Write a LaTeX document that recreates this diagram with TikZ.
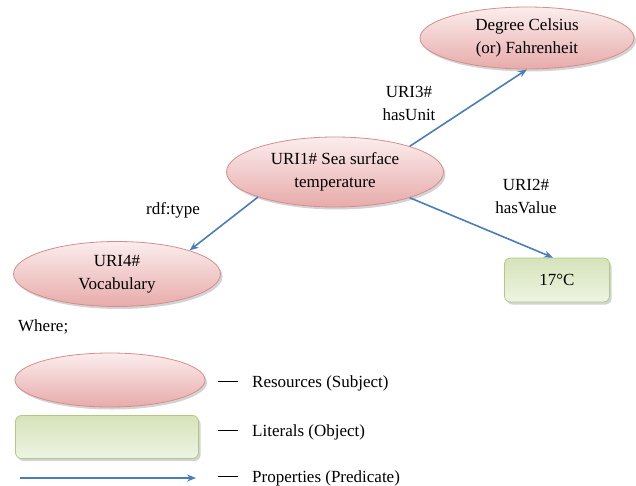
\documentclass[tikz,border=0pt]{standalone}
\usepackage{fontspec}
\setmainfont{Liberation Serif}
\usepackage{tikz}
\usetikzlibrary{shapes,positioning,arrows.meta,shadows}

\definecolor{resTop}{HTML}{FBEDED}
\definecolor{resBot}{HTML}{E7ABAA}
\definecolor{resLine}{HTML}{D58E8C}
\definecolor{litTop}{HTML}{D5E3BA}
\definecolor{litBot}{HTML}{EEF4E2}
\definecolor{litLine}{HTML}{B0CA80}
\definecolor{propBlue}{HTML}{4A7EBB}

\tikzset{
  resource/.style={ellipse,draw=resLine,line width=0.8pt,top color=resTop,bottom color=resBot,
    drop shadow={shadow xshift=2pt,shadow yshift=-2.5pt,opacity=0.35},
    inner sep=0pt,align=center},
  literal/.style={rectangle,rounded corners=6pt,draw=litLine,line width=0.8pt,top color=litTop,bottom color=litBot,
    drop shadow={shadow xshift=2pt,shadow yshift=-2.5pt,opacity=0.35},
    inner sep=0pt,align=center},
  property/.style={draw=propBlue,line width=1.6pt,-{Stealth[length=9pt,width=7pt]}},
  lbl/.style={align=center,inner sep=0pt}
}

\begin{document}
\begin{tikzpicture}[x=1pt,y=-1pt,font=\fontsize{17}{23}\selectfont]
  \useasboundingbox (0,0) rectangle (636,486);

  % triple
  \node [resource,minimum width=217pt,minimum height=70pt] (uri1) at (335,172) {URI1\# Sea surface\\temperature};
  \node [resource,minimum width=214pt,minimum height=62pt] (unit) at (527,38) {Degree Celsius\\(or) Fahrenheit};
  \node [resource,minimum width=207pt,minimum height=65pt] (vocab) at (117,274) {URI4\#\\Vocabulary};
  \node [literal,minimum width=105pt,minimum height=44pt] (value) at (557,280) {17°C};

  \draw [property] (uri1.19) -- (unit.south);
  \draw [property] (uri1.-19) -- ([xshift=-4pt]value.north);
  \draw [property] (uri1.198) -- (vocab.18);

  \node [lbl] (hasunit) at (409,103) {URI3\#\\hasUnit};
  \node [lbl] (hasvalue) at (526,197) {URI2\#\\hasValue};
  \node [lbl] (rdftype) at (173,210) {rdf:type};

  % legend
  \node [lbl,anchor=west] (where) at (18,327) {Where;};
  \node [resource,minimum width=190pt,minimum height=54pt] (legres) at (110,380) {};
  \node [literal,minimum width=183pt,minimum height=43pt] (leglit) at (107,437) {};
  \coordinate (legA) at (20,478);
  \coordinate (legB) at (196,478);
  \draw [property] (legA) -- (legB);

  \foreach \y/\name/\txt in {383/legresT/Resources (Subject),432/leglitT/Literals (Object),478/legpropT/Properties (Predicate)}
  {
    \node [lbl,anchor=west] (\name) at (218,\y) {\rule[0.3em]{20pt}{1.2pt}\hspace{14pt}\txt};
  }
\end{tikzpicture}
\end{document}
